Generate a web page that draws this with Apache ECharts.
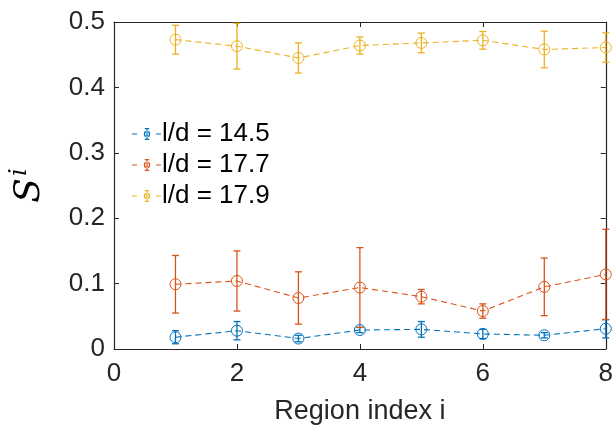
<!DOCTYPE html>
<html>
<head>
<meta charset="utf-8">
<script src="https://cdn.jsdelivr.net/npm/echarts@6/dist/echarts.min.js"></script>
<style>
html,body{margin:0;padding:0;background:#fff;}
#chart1{width:616px;height:430px;}
</style>
</head>
<body>
<div id="chart1"></div>
<script>
// region index
var regions = [1, 2, 3, 4, 5, 6, 7, 8];
// l/d = 14.5
var s145 = [0.018, 0.028, 0.016, 0.029, 0.030, 0.023, 0.021, 0.031];
var e145 = [0.010, 0.014, 0.005, 0.004, 0.012, 0.007, 0.004, 0.014];
// l/d = 17.7
var s177 = [0.099, 0.104, 0.078, 0.094, 0.080, 0.058, 0.095, 0.114];
var e177 = [0.044, 0.046, 0.040, 0.061, 0.011, 0.011, 0.044, 0.069];
// l/d = 17.9
var s179 = [0.473, 0.463, 0.445, 0.464, 0.468, 0.472, 0.458, 0.461];
var e179 = [0.022, 0.035, 0.023, 0.013, 0.015, 0.0135, 0.028, 0.0225];

var names = ['l/d = 14.5', 'l/d = 17.7', 'l/d = 17.9'];
var colors = ['#0072BD', '#D95319', '#EDB120'];
var yVals = [s145, s177, s179];
var eVals = [e145, e177, e179];

var legendIcon = 'path://M0 6.4H5V7.6H0Z M24 6.4H29V7.6H24Z M14.4 1H15.6V13H14.4Z M12.8 1H17.2V2.2H12.8Z M12.8 11.8H17.2V13H12.8Z ' +
    'M18.2 7A3.2 3.2 0 1 0 11.8 7A3.2 3.2 0 1 0 18.2 7Z M17 7A2 2 0 1 1 13 7A2 2 0 1 1 17 7Z';

var font = 'Arial, "Liberation Sans", sans-serif';

function errorBar(color) {
    return function (params, api) {
        var x = api.value(0), y = api.value(1), e = api.value(2);
        var top = api.coord([x, y + e]);
        var bot = api.coord([x, y - e]);
        var w = 3.5;
        var st = {stroke: color, lineWidth: 1.3};
        return {
            type: 'group',
            children: [
                {type: 'line', shape: {x1: top[0], y1: top[1], x2: bot[0], y2: bot[1]}, style: st},
                {type: 'line', shape: {x1: top[0] - w, y1: top[1], x2: top[0] + w, y2: top[1]}, style: st},
                {type: 'line', shape: {x1: bot[0] - w, y1: bot[1], x2: bot[0] + w, y2: bot[1]}, style: st}
            ]
        };
    };
}

var series = [];
for (var k = 0; k < 3; k++) {
    var lineData = [], errData = [];
    for (var j = 0; j < regions.length; j++) {
        lineData.push([regions[j], yVals[k][j]]);
        errData.push([regions[j], yVals[k][j], eVals[k][j]]);
    }
    series.push({
        name: names[k],
        type: 'custom',
        renderItem: errorBar(colors[k]),
        data: errData,
        clip: false,
        silent: true,
        z: 2
    });
    series.push({
        name: names[k],
        type: 'line',
        data: lineData,
        symbol: 'circle',
        symbolSize: 11,
        clip: false,
        color: colors[k],
        itemStyle: {color: 'rgba(255,255,255,0)', borderColor: colors[k], borderWidth: 1},
        lineStyle: {color: colors[k], width: 1.1, type: [6, 4]},
        z: 3
    });
}

var axisCommon = {
    axisLine: {show: true, onZero: false, lineStyle: {color: '#262626', width: 1.2}},
    axisTick: {show: true, inside: true, length: 5, lineStyle: {color: '#262626'}},
    splitLine: {show: false}
};

var chart1 = echarts.init(document.getElementById('chart1'));
chart1.setOption({
    animation: false,
    backgroundColor: '#fff',
    grid: {left: 113, right: 9, top: 22, bottom: 79},
    legend: {
        orient: 'vertical',
        left: 127,
        top: 114,
        itemWidth: 29,
        itemHeight: 12,
        itemGap: 1,
        textStyle: {fontFamily: font, fontSize: 26, color: '#000', lineHeight: 30, padding: [0, 0, 0, -4]},
        data: names.map(function (n, i) {
            return {name: n, icon: legendIcon, itemStyle: {color: colors[i], borderWidth: 0}};
        })
    },
    xAxis: [
        Object.assign({
            type: 'value', min: 0, max: 8, interval: 2, position: 'bottom',
            name: 'Region index i', nameLocation: 'middle', nameGap: 49,
            nameTextStyle: {fontFamily: font, fontSize: 27, color: '#262626'},
            axisLabel: {fontFamily: font, fontSize: 26, color: '#262626', margin: 12}
        }, axisCommon),
        Object.assign({
            type: 'value', min: 0, max: 8, interval: 2, position: 'top',
            axisLabel: {show: false}
        }, axisCommon)
    ],
    yAxis: [
        Object.assign({
            type: 'value', min: 0, max: 0.5, interval: 0.1, position: 'left',
            name: '{s|S}{i|i}', nameLocation: 'middle', nameGap: 66, nameRotate: 90,
            nameTextStyle: {
                rich: {
                    s: {fontFamily: '"DejaVu Serif", "Liberation Serif", serif', fontStyle: 'italic', fontSize: 36, color: '#000', verticalAlign: 'bottom', lineHeight: 40},
                    i: {fontFamily: '"DejaVu Serif", "Liberation Serif", serif', fontStyle: 'italic', fontSize: 24, color: '#000', verticalAlign: 'top', lineHeight: 40, padding: [0, 0, 14, 2]}
                }
            },
            axisLabel: {fontFamily: font, fontSize: 26, color: '#262626', margin: 9}
        }, axisCommon),
        Object.assign({
            type: 'value', min: 0, max: 0.5, interval: 0.1, position: 'right',
            axisLabel: {show: false}
        }, axisCommon)
    ],
    series: series
});
</script>
</body>
</html>
